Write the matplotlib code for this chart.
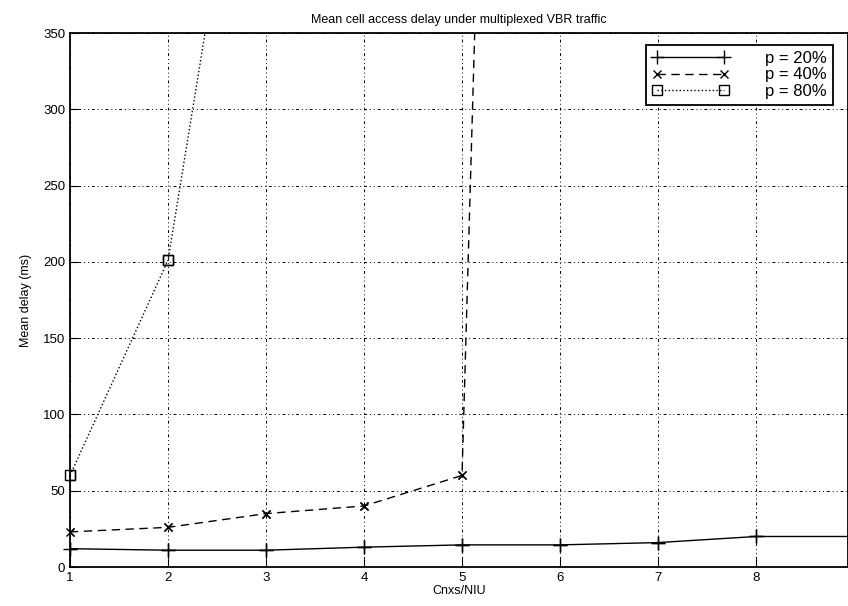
import matplotlib
matplotlib.use("Agg")
import matplotlib.pyplot as plt

# Data
cnxs = [1, 2, 3, 4, 5, 6, 7, 8, 9]
delay_20 = [12, 11, 11, 13, 14.5, 14.5, 16, 20, 20]
cnxs_40 = [1, 2, 3, 4, 5, 6]
delay_40 = [23, 26, 35, 40, 60, 2300]
cnxs_80 = [1, 2, 3]
delay_80 = [60, 201, 595]

labels = ["p = 20%", "p = 40%", "p = 80%"]
xticks = [1, 2, 3, 4, 5, 6, 7, 8]
yticks = [0, 50, 100, 150, 200, 250, 300, 350]
ymax = 350

plt.rcParams["font.family"] = ["Liberation Sans", "DejaVu Sans"]

fig = plt.figure(figsize=(8.48, 6.06), dpi=100)
ax = fig.add_axes([70 / 848, 39 / 606, 778 / 848, 534 / 606])

series = [
    (cnxs, delay_20, "-", "+", dict(ms=10), None),
    (cnxs_40, delay_40, "--", "x", dict(ms=6), (6, 4)),
    (cnxs_80, delay_80, ":", "s", dict(ms=7, mfc="none"), None),
]
for (xs, ys, ls, mk, mkw, dash), lab in zip(series, labels):
    kw = dict(color="black", ls=ls, lw=1, label=lab)
    if dash:
        kw["dashes"] = dash
    ln, = ax.plot(xs, ys, marker=mk, mew=1, **mkw, **kw)
    # markers drawn unclipped so the ones on the frame stay whole
    keep = [(x, y) for x, y in zip(xs, ys) if y <= ymax]
    ax.plot([p[0] for p in keep], [p[1] for p in keep], ls="none",
            marker=mk, color="black", mew=1, clip_on=False, **mkw)

ax.set_xlim(1, 1 + 778 / 98)
ax.set_ylim(0, ymax)
ax.set_xticks(xticks)
ax.set_yticks(yticks)
ax.tick_params(direction="in", length=6, labelsize=9.5, colors="black")
ax.grid(True, color="black", linestyle=(0, (1, 3, 1, 3, 3, 3)), linewidth=0.7)
for s in ax.spines.values():
    s.set_linewidth(1.3)

ax.set_title("Mean cell access delay under multiplexed VBR traffic",
             fontsize=9, pad=7)
ax.set_xlabel("Cnxs/NIU", fontsize=9, labelpad=1)
ax.set_ylabel("Mean delay (ms)", fontsize=9, labelpad=8)

handles, _ = ax.get_legend_handles_labels()
leg = ax.legend(handles[:3], labels, loc="upper right",
                bbox_to_anchor=(833 / 848, 1 - 45 / 606),
                bbox_transform=fig.transFigure, fontsize=12, numpoints=2,
                handlelength=4.6, handletextpad=2.2, borderpad=0.35,
                labelspacing=0.1, fancybox=False, framealpha=1,
                edgecolor="black", borderaxespad=0)
leg.get_frame().set_linewidth(1.3)

fig.savefig("out.png", dpi=100)
